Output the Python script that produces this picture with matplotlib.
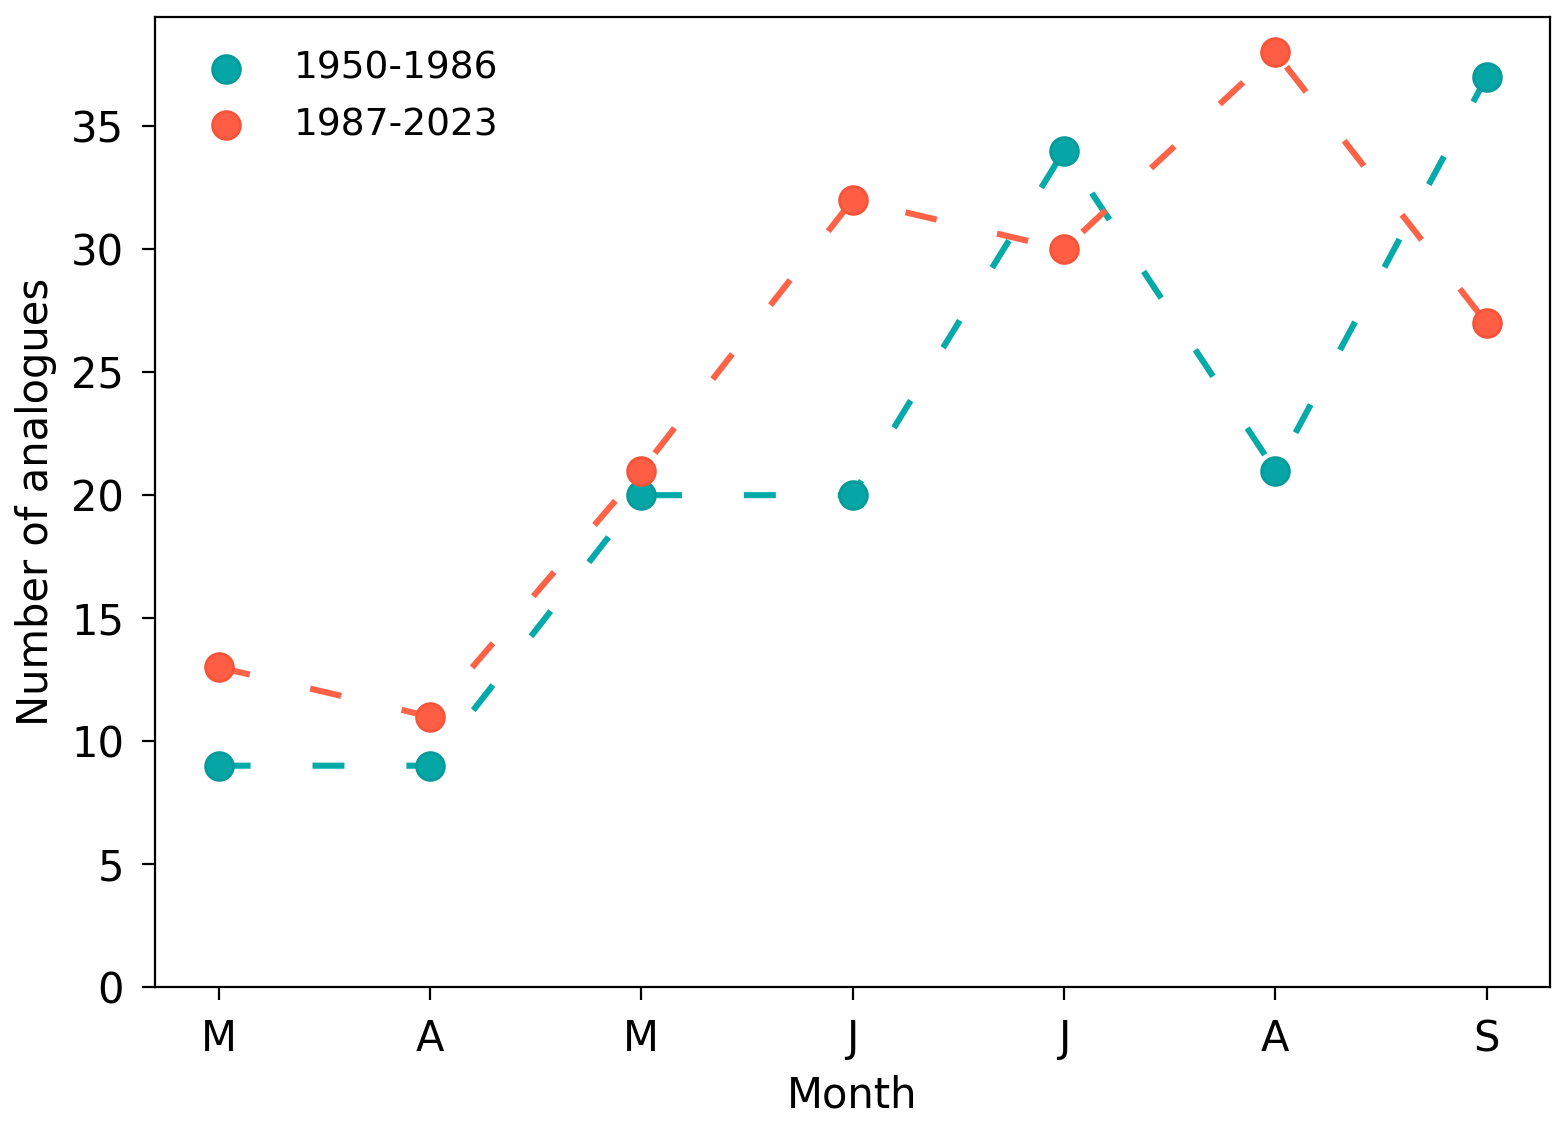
import matplotlib
matplotlib.use('Agg')
import matplotlib.pyplot as plt

months = ['M', 'A', 'M', 'J', 'J', 'A', 'S']
early = [9, 9, 20, 20, 34, 21, 37]
late = [13, 11, 21, 32, 30, 38, 27]

plt.rcParams['font.size'] = 15
plt.rcParams['lines.scale_dashes'] = False

fig, ax = plt.subplots(figsize=(7.84, 5.605), dpi=200)
fig.subplots_adjust(left=0.099, right=0.9885, top=0.985, bottom=0.1195)

x = list(range(len(months)))
dash = (0, (11.5, 22.3))

ax.plot(x, early, color='#04AAAA', lw=2.2, linestyle=dash, zorder=2)
ax.plot(x, late, color='#FF6347', lw=2.2, linestyle=dash, zorder=2)
ax.scatter(x, early, s=100, color='#07A6A6', edgecolor='#069A9A', lw=1,
           label='1950-1986', zorder=3)
ax.scatter(x, late, s=100, color='#FF5E45', edgecolor='#F5533A', lw=1,
           label='1987-2023', zorder=3)

ax.set_xticks(x)
ax.set_xticklabels(months)
ax.set_ylim(bottom=0)
ax.tick_params(length=4.7, pad=6.5)
ax.set_xlabel('Month', labelpad=5)
ax.set_ylabel('Number of analogues', labelpad=5)
ax.legend(loc='upper left', frameon=False, fontsize=13.5, labelspacing=0.55)

fig.savefig('out.png', dpi=200)
